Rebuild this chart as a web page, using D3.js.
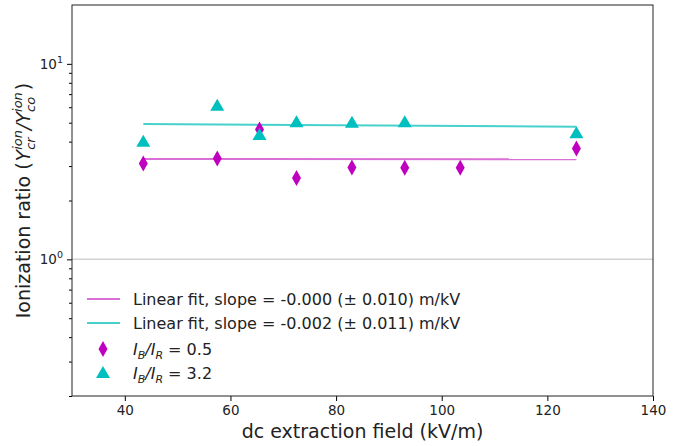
<!DOCTYPE html>
<html><head><meta charset="utf-8">
<script src="https://cdn.jsdelivr.net/npm/d3@7"></script>
<style>body{margin:0;background:#fff}text{font-family:"DejaVu Sans",sans-serif}</style>
</head><body>
<svg id="c" width="682" height="446"></svg>
<script>
const xField = [43.5, 57.5, 65.5, 72.5, 83, 93, 103.5, 125.5];
const ratioLow = [3.09, 3.28, 4.62, 2.61, 2.95, 2.94, 2.94, 3.69];
const xFieldHigh = [43.5, 57.5, 65.5, 72.5, 83, 93, 125.5];
const ratioHigh = [3.99, 6.1, 4.32, 5.02, 5.0, 5.03, 4.41];
const fitX = [43.5, 125.5];
const fitLow = [3.26, 3.25];
const fitHigh = [4.92, 4.77];
const xTicks = [40, 60, 80, 100, 120, 140];
const yMajor = [1, 10];
const yMinor = [0.2,0.3,0.4,0.5,0.6,0.7,0.8,0.9,2,3,4,5,6,7,8,9];
const legendLabels = ["Linear fit, slope = -0.000 (\u00b1 0.010) m/kV", "Linear fit, slope = -0.002 (\u00b1 0.011) m/kV"];

const svg = d3.select("#c");
const L=72, R=653, T=5, B=396;
const x = d3.scaleLinear().domain([30,140]).range([L,R]);
const y = d3.scaleLog().domain([0.2,20]).range([B,T]);
const cLow = "#bf00bf", cHigh = "#00bfbf", lLow = "#da70d6", lHigh = "#48d1cc";

svg.append("line").attr("x1",L).attr("x2",R).attr("y1",y(1)).attr("y2",y(1)).attr("stroke","#d3d3d3").attr("stroke-width",1.5);

const line = d3.line().x(d=>x(d[0])).y(d=>y(d[1]));
svg.append("path").attr("d", line(fitX.map((v,i)=>[v,fitLow[i]]))).attr("stroke",lLow).attr("stroke-width",2).attr("fill","none");
svg.append("path").attr("d", line(fitX.map((v,i)=>[v,fitHigh[i]]))).attr("stroke",lHigh).attr("stroke-width",2).attr("fill","none");

const diamond = "M0,-8L4.5,0L0,8L-4.5,0Z";
const tri = "M0,-7L7,5L-7,5Z";
svg.append("g").selectAll("path").data(xField).join("path")
  .attr("d",diamond).attr("fill",cLow)
  .attr("transform",(d,i)=>`translate(${x(d)},${y(ratioLow[i])})`);
svg.append("g").selectAll("path").data(xFieldHigh).join("path")
  .attr("d",tri).attr("fill",cHigh)
  .attr("transform",(d,i)=>`translate(${x(d)},${y(ratioHigh[i])})`);

const xAx = svg.append("g").attr("transform",`translate(0,${B})`)
  .call(d3.axisBottom(x).tickValues(xTicks).tickSize(5).tickPadding(4).tickFormat(d3.format("d")));
xAx.selectAll("text").attr("font-size",13.5).attr("fill","#222");
xAx.select(".domain").remove();
const yAx = svg.append("g").attr("transform",`translate(${L},0)`)
  .call(d3.axisLeft(y).tickValues(yMajor).tickSize(5).tickFormat(""));
yAx.select(".domain").remove();
svg.append("g").attr("transform",`translate(${L},0)`)
  .call(d3.axisLeft(y).tickValues(yMinor).tickSize(3).tickFormat("")).select(".domain").remove();
yMajor.forEach(v=>{
  const t = svg.append("text").attr("x",L-9).attr("y",y(v)+5).attr("text-anchor","end").attr("font-size",13.5).attr("fill","#222");
  t.append("tspan").text("10");
  t.append("tspan").attr("dy",-6).attr("font-size",9.5).text(v===1?"0":"1");
});
svg.append("rect").attr("x",L).attr("y",T).attr("width",R-L).attr("height",B-T).attr("fill","none").attr("stroke","#222").attr("stroke-width",1);

svg.append("text").attr("x",(L+R)/2).attr("y",438).attr("text-anchor","middle").attr("font-size",19).attr("fill","#222").text("dc extraction field (kV/m)");

const g = svg.append("g");
let cx = 0;
function piece(txt, size, dy, italic){
  const t = g.append("text").attr("x",cx).attr("y",dy).attr("font-size",size).attr("fill","#222").text(txt);
  if(italic) t.attr("font-style","italic");
  return t;
}
function adv(t){ cx += t.node().getComputedTextLength(); }
adv(piece("Ionization ratio (",19,0,false));
cx += 1;
adv(piece("Y",19,0,true));
let s1 = piece("ion",13,-8,true), s2 = piece("cr",13,5,true);
cx += Math.max(s1.node().getComputedTextLength(), s2.node().getComputedTextLength());
adv(piece("/",19,0,true));
adv(piece("Y",19,0,true));
s1 = piece("ion",13,-8,true); s2 = piece("co",13,5,true);
cx += Math.max(s1.node().getComputedTextLength(), s2.node().getComputedTextLength());
cx += 2;
adv(piece(")",19,0,false));
g.attr("transform",`translate(30,${(T+B)/2}) rotate(-90) translate(${-cx/2},0)`);

const lg = svg.append("g");
const rows = [299, 323, 349, 373];
[lLow,lHigh].forEach((c,i)=>{
  lg.append("line").attr("x1",87).attr("x2",120).attr("y1",rows[i]).attr("y2",rows[i]).attr("stroke",c).attr("stroke-width",2);
  lg.append("text").attr("x",133).attr("y",rows[i]+6).attr("font-size",16).attr("fill","#222").text(legendLabels[i]);
});
lg.append("path").attr("d",diamond).attr("fill",cLow).attr("transform",`translate(103,${rows[2]})`);
lg.append("path").attr("d",tri).attr("fill",cHigh).attr("transform",`translate(103,${rows[3]})`);
["0.5","3.2"].forEach((v,i)=>{
  const t = lg.append("text").attr("x",133).attr("y",rows[i+2]+6).attr("font-size",16).attr("fill","#222");
  t.append("tspan").attr("font-style","italic").text("I");
  t.append("tspan").attr("font-style","italic").attr("font-size",11).attr("dy",4).text("B");
  t.append("tspan").attr("font-style","italic").attr("dy",-4).text("/I");
  t.append("tspan").attr("font-style","italic").attr("font-size",11).attr("dy",4).text("R");
  t.append("tspan").attr("dy",-4).text(" = "+v);
});
</script>
</body></html>
